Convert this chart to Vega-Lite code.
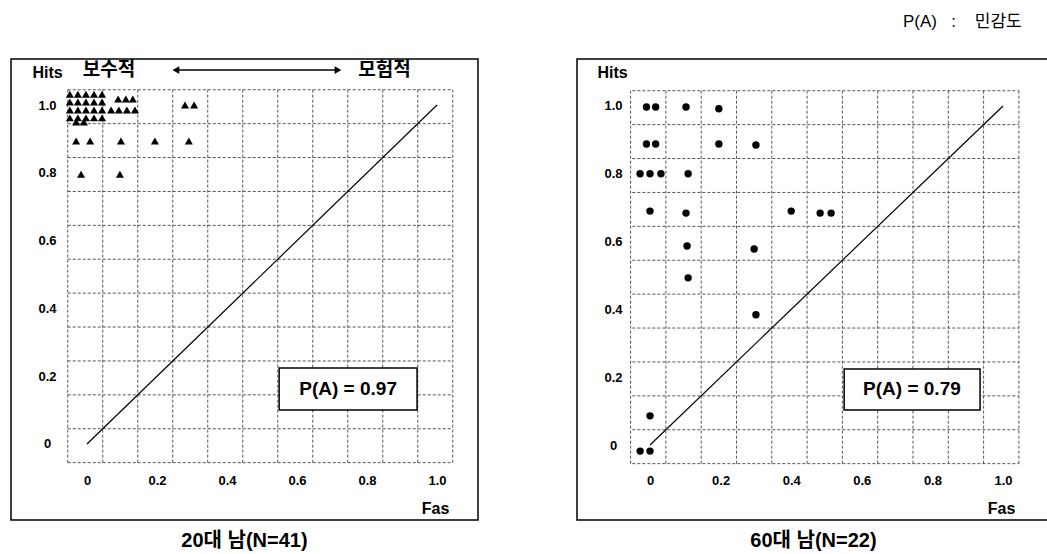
{
  "$schema": "https://vega.github.io/schema/vega-lite/v6.json",
  "background": "white",
  "autosize": {"type": "pad"},
  "padding": {"left": 10, "top": 13, "right": 0, "bottom": 0},
  "title": {"text": "P(A)\u00a0\u00a0\u00a0:\u00a0\u00a0\u00a0\u00a0민감도", "anchor": "end", "font": "Liberation Sans, Noto Sans CJK KR", "fontSize": 17, "fontWeight": "normal", "color": "black", "dx": -29, "offset": 27},
  "spacing": 97,
  "config": {
    "view": {"stroke": "black", "strokeWidth": 1.5},
    "font": "Liberation Sans, Noto Sans CJK KR"
  },
  "datasets": {
    "grid": [{"g": -0.055}, {"g": 0.045}, {"g": 0.145}, {"g": 0.245}, {"g": 0.345}, {"g": 0.445}, {"g": 0.545}, {"g": 0.645}, {"g": 0.745}, {"g": 0.845}, {"g": 0.945}, {"g": 1.045}],
    "male20": [
      {"fas": -0.049, "hits": 1.032}, {"fas": -0.026, "hits": 1.032}, {"fas": -0.003, "hits": 1.032}, {"fas": 0.020, "hits": 1.032}, {"fas": 0.043, "hits": 1.032},
      {"fas": -0.049, "hits": 1.009}, {"fas": -0.026, "hits": 1.009}, {"fas": -0.003, "hits": 1.009}, {"fas": 0.020, "hits": 1.009}, {"fas": 0.043, "hits": 1.009},
      {"fas": -0.049, "hits": 0.985}, {"fas": -0.026, "hits": 0.985}, {"fas": -0.003, "hits": 0.985}, {"fas": 0.020, "hits": 0.985}, {"fas": 0.043, "hits": 0.985},
      {"fas": -0.049, "hits": 0.962}, {"fas": -0.026, "hits": 0.962}, {"fas": -0.003, "hits": 0.962}, {"fas": 0.020, "hits": 0.962}, {"fas": 0.043, "hits": 0.962},
      {"fas": -0.031, "hits": 0.950}, {"fas": -0.009, "hits": 0.950},
      {"fas": 0.089, "hits": 1.018}, {"fas": 0.111, "hits": 1.018}, {"fas": 0.131, "hits": 1.018},
      {"fas": 0.069, "hits": 0.985}, {"fas": 0.091, "hits": 0.985}, {"fas": 0.114, "hits": 0.985}, {"fas": 0.137, "hits": 0.985},
      {"fas": 0.280, "hits": 1.0}, {"fas": 0.306, "hits": 1.0},
      {"fas": -0.031, "hits": 0.894}, {"fas": 0.009, "hits": 0.894}, {"fas": 0.097, "hits": 0.894}, {"fas": 0.194, "hits": 0.894}, {"fas": 0.291, "hits": 0.894},
      {"fas": -0.017, "hits": 0.796}, {"fas": 0.094, "hits": 0.796}
    ],
    "male60": [
      {"fas": -0.010, "hits": 0.997}, {"fas": 0.016, "hits": 0.997}, {"fas": 0.102, "hits": 0.997}, {"fas": 0.195, "hits": 0.992},
      {"fas": -0.010, "hits": 0.888}, {"fas": 0.016, "hits": 0.888}, {"fas": 0.195, "hits": 0.888}, {"fas": 0.300, "hits": 0.885},
      {"fas": -0.028, "hits": 0.800}, {"fas": 0.0, "hits": 0.800}, {"fas": 0.031, "hits": 0.800}, {"fas": 0.108, "hits": 0.800},
      {"fas": 0.0, "hits": 0.690}, {"fas": 0.102, "hits": 0.684}, {"fas": 0.400, "hits": 0.690}, {"fas": 0.482, "hits": 0.684}, {"fas": 0.513, "hits": 0.684},
      {"fas": 0.105, "hits": 0.587}, {"fas": 0.295, "hits": 0.578}, {"fas": 0.108, "hits": 0.493}, {"fas": 0.300, "hits": 0.384},
      {"fas": 0.0, "hits": 0.086}, {"fas": -0.028, "hits": -0.018}, {"fas": 0.0, "hits": -0.018}
    ],
    "pa20": [{"label": "P(A) = 0.97"}],
    "pa60": [{"label": "P(A) = 0.79"}],
    "left": [{"label": "보수적"}],
    "right": [{"label": "모험적"}],
    "one": [{"label": ""}]
  },
  "hconcat": [
    {
      "width": 467,
      "height": 461,
      "title": {"text": "20대 남(N=41)", "orient": "bottom", "offset": 11, "fontSize": 20, "fontWeight": "bold", "font": "Liberation Sans, Noto Sans CJK KR", "color": "black"},
      "layer": [
        {
          "data": {"name": "grid"},
          "mark": {"type": "rule", "color": "#555", "strokeWidth": 1, "strokeDash": [3, 2]},
          "encoding": {
            "x": {"field": "g", "type": "quantitative", "scale": {"domain": [-0.2171, 1.1171], "nice": false, "zero": false},
              "axis": {"values": [0, 0.2, 0.4, 0.6, 0.8, 1.0], "labelExpr": "datum.value == 0 ? '0' : format(datum.value, '.1f')", "grid": false, "ticks": false, "tickSize": 0, "domain": false, "labelFont": "Liberation Sans", "labelFontWeight": "bold", "labelFontSize": 13, "labelColor": "black", "labelPadding": 0, "offset": -46, "labelFlush": false, "labelOverlap": false,
                "title": "Fas", "titleX": 424, "titleY": 34, "titleAlign": "center", "titleBaseline": "middle", "titleFont": "Liberation Sans", "titleFontSize": 16, "titleFontWeight": "bold", "titleColor": "black"}},
            "y": {"datum": -0.055, "type": "quantitative", "scale": {"domain": [-0.2242, 1.1357], "nice": false, "zero": false},
              "axis": {"values": [0, 0.2, 0.4, 0.6, 0.8, 1.0], "labelExpr": "datum.value == 0 ? '0' : format(datum.value, '.1f')", "grid": false, "ticks": false, "tickSize": 0, "domain": false, "labelFont": "Liberation Sans", "labelFontWeight": "bold", "labelFontSize": 13, "labelColor": "black", "labelPadding": 0, "labelAlign": "center", "labelBaseline": "middle", "offset": -36, "labelFlush": false, "labelOverlap": false,
                "title": "Hits", "titleAngle": 0, "titleX": 0, "titleY": 13, "titleAlign": "center", "titleBaseline": "middle", "titleFont": "Liberation Sans", "titleFontSize": 16, "titleFontWeight": "bold", "titleColor": "black"}},
            "y2": {"datum": 1.045}
          }
        },
        {
          "data": {"name": "grid"},
          "mark": {"type": "rule", "color": "#555", "strokeWidth": 1, "strokeDash": [3, 2]},
          "encoding": {
            "y": {"field": "g", "type": "quantitative"},
            "x": {"datum": -0.055, "type": "quantitative"},
            "x2": {"datum": 1.045}
          }
        },
        {
          "data": {"name": "one"},
          "mark": {"type": "rule", "color": "black", "strokeWidth": 1.2},
          "encoding": {
            "x": {"datum": 0, "type": "quantitative"},
            "y": {"datum": 0, "type": "quantitative"},
            "x2": {"datum": 1},
            "y2": {"datum": 1}
          }
        },
        {
          "data": {"name": "male20"},
          "mark": {"type": "point", "shape": "triangle-up", "filled": true, "color": "black", "size": 65, "opacity": 1},
          "encoding": {
            "x": {"field": "fas", "type": "quantitative"},
            "y": {"field": "hits", "type": "quantitative"}
          }
        },
        {
          "data": {"name": "pa20"},
          "mark": {"type": "rect", "fill": "white", "stroke": "black", "strokeWidth": 1.5},
          "encoding": {
            "x": {"datum": 0.549, "type": "quantitative"},
            "x2": {"datum": 0.943},
            "y": {"datum": 0.224, "type": "quantitative"},
            "y2": {"datum": 0.100}
          }
        },
        {
          "data": {"name": "pa20"},
          "mark": {"type": "text", "font": "Liberation Sans", "fontSize": 19, "fontWeight": "bold", "color": "black", "align": "center", "baseline": "middle"},
          "encoding": {
            "x": {"datum": 0.746, "type": "quantitative"},
            "y": {"datum": 0.162, "type": "quantitative"},
            "text": {"field": "label"}
          }
        },
        {
          "data": {"name": "left"},
          "mark": {"type": "text", "font": "Noto Sans CJK KR", "fontSize": 19, "fontWeight": "bold", "color": "black", "align": "center", "baseline": "middle"},
          "encoding": {
            "x": {"datum": 0.063, "type": "quantitative"},
            "y": {"datum": 1.103, "type": "quantitative"},
            "text": {"field": "label"}
          }
        },
        {
          "data": {"name": "right"},
          "mark": {"type": "text", "font": "Noto Sans CJK KR", "fontSize": 19, "fontWeight": "bold", "color": "black", "align": "center", "baseline": "middle"},
          "encoding": {
            "x": {"datum": 0.85, "type": "quantitative"},
            "y": {"datum": 1.103, "type": "quantitative"},
            "text": {"field": "label"}
          }
        },
        {
          "data": {"name": "one"},
          "mark": {"type": "rule", "color": "black", "strokeWidth": 1.5},
          "encoding": {
            "x": {"datum": 0.25, "type": "quantitative"},
            "x2": {"datum": 0.72},
            "y": {"datum": 1.103, "type": "quantitative"}
          }
        },
        {
          "data": {"name": "one"},
          "mark": {"type": "point", "shape": "triangle-left", "filled": true, "color": "black", "size": 60, "opacity": 1},
          "encoding": {
            "x": {"datum": 0.254, "type": "quantitative"},
            "y": {"datum": 1.103, "type": "quantitative"}
          }
        },
        {
          "data": {"name": "one"},
          "mark": {"type": "point", "shape": "triangle-right", "filled": true, "color": "black", "size": 60, "opacity": 1},
          "encoding": {
            "x": {"datum": 0.717, "type": "quantitative"},
            "y": {"datum": 1.103, "type": "quantitative"}
          }
        }
      ]
    },
    {
      "width": 473,
      "height": 461,
      "title": {"text": "60대 남(N=22)", "orient": "bottom", "offset": 11, "fontSize": 20, "fontWeight": "bold", "font": "Liberation Sans, Noto Sans CJK KR", "color": "black"},
      "layer": [
        {
          "data": {"name": "grid"},
          "mark": {"type": "rule", "color": "#555", "strokeWidth": 1, "strokeDash": [3, 2]},
          "encoding": {
            "x": {"field": "g", "type": "quantitative", "scale": {"domain": [-0.2068, 1.1331], "nice": false, "zero": false},
              "axis": {"values": [0, 0.2, 0.4, 0.6, 0.8, 1.0], "labelExpr": "datum.value == 0 ? '0' : format(datum.value, '.1f')", "grid": false, "ticks": false, "tickSize": 0, "domain": false, "labelFont": "Liberation Sans", "labelFontWeight": "bold", "labelFontSize": 13, "labelColor": "black", "labelPadding": 0, "offset": -46, "labelFlush": false, "labelOverlap": false,
                "title": "Fas", "titleX": 424, "titleY": 34, "titleAlign": "center", "titleBaseline": "middle", "titleFont": "Liberation Sans", "titleFontSize": 16, "titleFontWeight": "bold", "titleColor": "black"}},
            "y": {"datum": -0.055, "type": "quantitative", "scale": {"domain": [-0.2212, 1.1386], "nice": false, "zero": false},
              "axis": {"values": [0, 0.2, 0.4, 0.6, 0.8, 1.0], "labelExpr": "datum.value == 0 ? '0' : format(datum.value, '.1f')", "grid": false, "ticks": false, "tickSize": 0, "domain": false, "labelFont": "Liberation Sans", "labelFontWeight": "bold", "labelFontSize": 13, "labelColor": "black", "labelPadding": 0, "labelAlign": "center", "labelBaseline": "middle", "offset": -36, "labelFlush": false, "labelOverlap": false,
                "title": "Hits", "titleAngle": 0, "titleX": -1, "titleY": 13, "titleAlign": "center", "titleBaseline": "middle", "titleFont": "Liberation Sans", "titleFontSize": 16, "titleFontWeight": "bold", "titleColor": "black"}},
            "y2": {"datum": 1.045}
          }
        },
        {
          "data": {"name": "grid"},
          "mark": {"type": "rule", "color": "#555", "strokeWidth": 1, "strokeDash": [3, 2]},
          "encoding": {
            "y": {"field": "g", "type": "quantitative"},
            "x": {"datum": -0.05, "type": "quantitative"},
            "x2": {"datum": 1.045}
          }
        },
        {
          "data": {"name": "one"},
          "mark": {"type": "rule", "color": "black", "strokeWidth": 1.2},
          "encoding": {
            "x": {"datum": 0, "type": "quantitative"},
            "y": {"datum": 0, "type": "quantitative"},
            "x2": {"datum": 1},
            "y2": {"datum": 1}
          }
        },
        {
          "data": {"name": "male60"},
          "mark": {"type": "point", "shape": "circle", "filled": true, "color": "black", "size": 55, "opacity": 1},
          "encoding": {
            "x": {"field": "fas", "type": "quantitative"},
            "y": {"field": "hits", "type": "quantitative"}
          }
        },
        {
          "data": {"name": "pa60"},
          "mark": {"type": "rect", "fill": "white", "stroke": "black", "strokeWidth": 1.5},
          "encoding": {
            "x": {"datum": 0.550, "type": "quantitative"},
            "x2": {"datum": 0.935},
            "y": {"datum": 0.224, "type": "quantitative"},
            "y2": {"datum": 0.103}
          }
        },
        {
          "data": {"name": "pa60"},
          "mark": {"type": "text", "font": "Liberation Sans", "fontSize": 19, "fontWeight": "bold", "color": "black", "align": "center", "baseline": "middle"},
          "encoding": {
            "x": {"datum": 0.742, "type": "quantitative"},
            "y": {"datum": 0.164, "type": "quantitative"},
            "text": {"field": "label"}
          }
        }
      ]
    }
  ]
}
